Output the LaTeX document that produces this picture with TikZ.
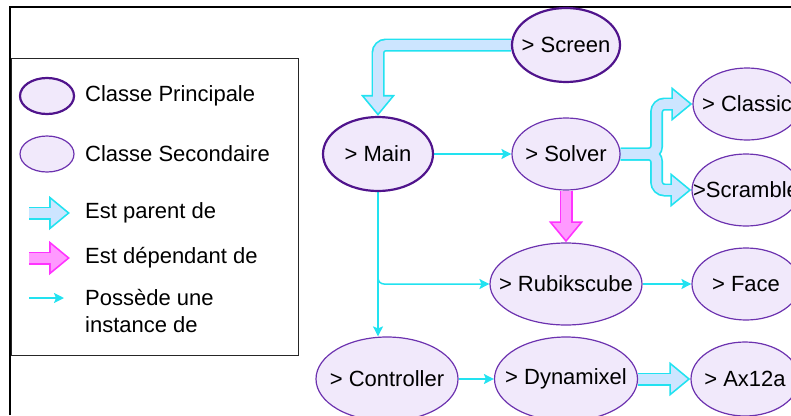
\documentclass[tikz,border=0pt]{standalone}
\usepackage{fontspec}
\setmainfont{Liberation Sans}
\usepackage{xcolor}
\usetikzlibrary{shapes.geometric,arrows.meta,backgrounds}

\definecolor{klassfill}{RGB}{241,233,251}
\definecolor{klassdraw}{RGB}{108,50,175}
\definecolor{klassdark}{RGB}{80,20,140}
\definecolor{parentline}{RGB}{34,226,240}
\definecolor{parentfill}{RGB}{204,229,255}
\definecolor{dependline}{RGB}{255,51,255}
\definecolor{dependfill}{RGB}{255,153,255}

\newcommand{\cname}[1]{\makebox[0pt]{#1}}

\tikzset{
	klass/.style={ellipse, draw=klassdraw, fill=klassfill, line width=1.2pt, inner sep=0pt},
	hauptklass/.style={klass, draw=klassdark, line width=2.2pt},
	legtext/.style={anchor=west, inner sep=0pt, align=left},
	besitz/.style={draw=parentline, line width=1.5pt, -{Stealth[length=10pt,width=10pt,inset=2pt]}},
	parentout/.style={draw=parentline, line width=13pt, rounded corners=8pt, -{Triangle[width=33pt,length=21pt]}},
	parentin/.style={draw=parentfill, line width=9.6pt, rounded corners=8pt, shorten >=2.75pt, -{Triangle[width=26pt,length=16.5pt]}},
	dependout/.style={draw=dependline, line width=13pt, -{Triangle[width=33pt,length=21pt]}},
	dependin/.style={draw=dependfill, line width=9.6pt, shorten >=2.75pt, -{Triangle[width=26pt,length=16.5pt]}}
}

\begin{document}
\begin{tikzpicture}[x=1pt, y=-1pt, font=\fontsize{22}{27}\selectfont]
			\useasboundingbox (0,0) rectangle (791,415);
			\clip (0,0) rectangle (791,415);
			
			% Rahmen
			\draw[line width=2pt] (10,415) -- (10,7) -- (791,7);
			
			% Legende
			\draw[line width=0.8pt, black!85] (11,58) rectangle (298,355);
			\node[hauptklass, minimum width=54, minimum height=36] (legP) at (47,96) {};
			\node[klass, minimum width=54, minimum height=36] (legS) at (47,154) {};
			\node[legtext] (txtP) at (85,96) {Classe Principale};
			\node[legtext] (txtS) at (85,154) {Classe Secondaire};
			\node[legtext] (txtParent) at (85,213) {Est parent de};
			\node[legtext] (txtDepend) at (85,258) {Est dépendant de};
			\node[legtext] (txtBesitz) at (85,311) {Possède une\\instance de};
			\coordinate (parentA) at (29,213);
			\coordinate (parentB) at (70,213);
			\coordinate (dependA) at (29,258);
			\coordinate (dependB) at (70,258);
			\coordinate (besitzA) at (29,298);
			\coordinate (besitzB) at (64,298);
			
			% Klassen
			\node[hauptklass, minimum width=108, minimum height=74] (screen) at (566,45) {\cname{> Screen}};
			\node[hauptklass, minimum width=110, minimum height=74] (main) at (378,154) {\cname{> Main}};
			\node[klass, minimum width=108, minimum height=72] (solver) at (566,154) {\cname{> Solver}};
			\node[klass, minimum width=108, minimum height=72] (classic) at (747,104) {\cname{> Classic}};
			\node[klass, minimum width=108, minimum height=72] (scramble) at (746,190) {\cname{>Scramble}};
			\node[klass, minimum width=152, minimum height=82] (rubik) at (566,284) {\cname{> Rubikscube}};
			\node[klass, minimum width=108, minimum height=72] (face) at (746,284) {\cname{> Face}};
			\node[klass, minimum width=142, minimum height=84] (controller) at (387,379) {\cname{> Controller}};
			\node[klass, minimum width=143, minimum height=84] (dynamixel) at (566,379) {\cname{> Dynamixel}};
			\node[klass, minimum width=108, minimum height=74] (ax12a) at (745,379) {\cname{> Ax12a}};
			
			% Pfeile
			\begin{scope}[on background layer]
				\draw[parentout] (screen.west) -- (main.north |- screen.west) -- (main.north);
				\draw[parentout] (solver.east) -- ++(36,0) |- (classic.west);
				\draw[parentout] (solver.east) -- ++(36,0) |- (scramble.west);
				\draw[parentout] (dynamixel.east) -- (ax12a.west);
				\draw[parentout] (parentA) -- (parentB);
				\draw[parentin] (screen.west) -- (main.north |- screen.west) -- (main.north);
				\draw[parentin] (solver.east) -- ++(36,0) |- (classic.west);
				\draw[parentin] (solver.east) -- ++(36,0) |- (scramble.west);
				\draw[parentin] (dynamixel.east) -- (ax12a.west);
				\draw[parentin] (parentA) -- (parentB);
				
				\draw[dependout] (solver.south) -- (rubik.north);
				\draw[dependout] (dependA) -- (dependB);
				\draw[dependin] (solver.south) -- (rubik.north);
				\draw[dependin] (dependA) -- (dependB);
				
				\draw[besitz] (main.east) -- (solver.west);
				\draw[besitz, rounded corners=6pt] (main.south) |- (rubik.west);
				\draw[besitz] (main.south) -- (main.south |- controller.north);
				\draw[besitz] (rubik.east) -- (face.west);
				\draw[besitz] (controller.east) -- (dynamixel.west);
				\draw[besitz] (besitzA) -- (besitzB);
			\end{scope}
	\end{tikzpicture}
\end{document}
